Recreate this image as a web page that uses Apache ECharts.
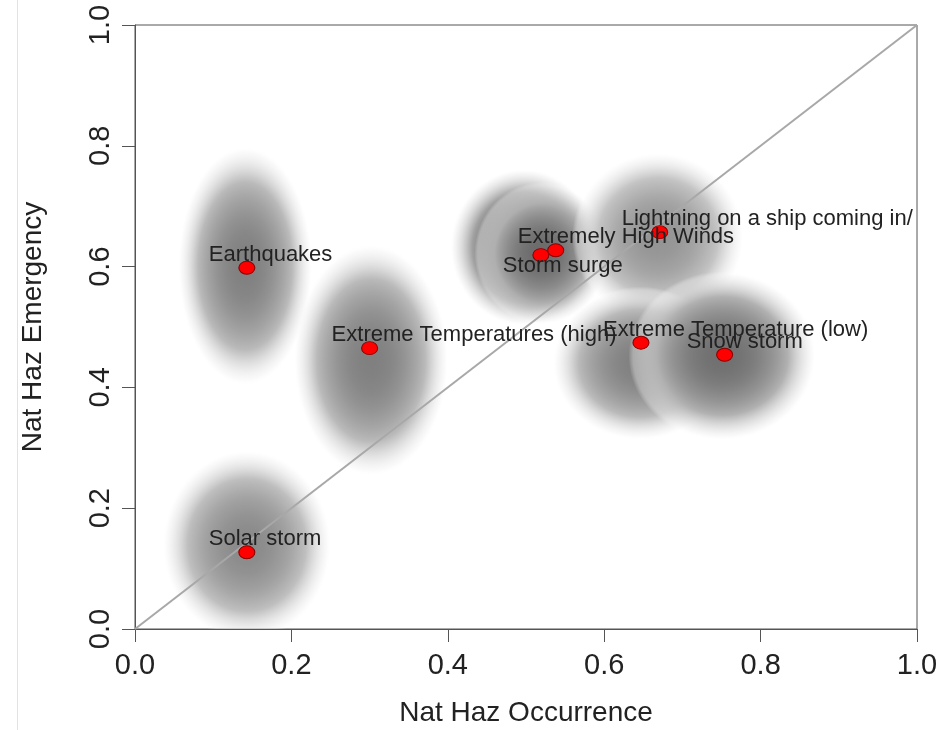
<!DOCTYPE html>
<html>
<head>
<meta charset="utf-8">
<script src="https://cdn.jsdelivr.net/npm/echarts@6/dist/echarts.min.js"></script>
<style>
  html, body { margin: 0; padding: 0; background: #fff; }
  #chart { width: 951px; height: 730px; }
</style>
</head>
<body>
<div id="chart"></div>
<script>
// Hazards plotted by occurrence vs emergency, each with a grey uncertainty cloud.
const hazards = [
  'Earthquakes', 'Extreme Temperatures (high)', 'Solar storm', 'Storm surge',
  'Extremely High Winds', 'Lightning on a ship coming in/out of port',
  'Extreme Temperature (low)', 'Snow storm',
];
const occurrence = [0.143, 0.300, 0.143, 0.519, 0.538, 0.671, 0.647, 0.754];
const emergency  = [0.598, 0.465, 0.127, 0.619, 0.627, 0.657, 0.474, 0.454];

// cloud centre and half-spread (data units) per hazard, plus darkness 0..1
const cloudX   = [0.141, 0.302, 0.143, 0.497, 0.520, 0.669, 0.646, 0.751];
const cloudY   = [0.601, 0.445, 0.139, 0.632, 0.622, 0.649, 0.440, 0.452];
const spreadX  = [0.086, 0.099, 0.108, 0.094, 0.086, 0.110, 0.112, 0.120];
const spreadY  = [0.198, 0.192, 0.157, 0.130, 0.118, 0.140, 0.127, 0.140];
const darkness = [0.50, 0.50, 0.46, 0.68, 0.58, 0.42, 0.50, 0.56];

const xTicks = [0, 0.2, 0.4, 0.6, 0.8, 1.0];

const INK = '#222';
const FRAME = '#555';
const FONT = '"Liberation Sans", Arial, sans-serif';
const BELOW = new Set(['Storm surge']);

const chart = echarts.init(document.getElementById('chart'));

// radial fade from grey centre to a faint, half-see-through white rim
function cloudFill(dark) {
  const g = Math.round(255 * (1 - dark));
  const stops = [];
  for (let i = 0; i <= 20; i++) {
    const t = i / 20;
    const f = 1 - Math.pow(t, 2.2);
    const c = Math.round(255 - (255 - g) * f);
    const a = t < 0.7 ? 1 : Math.max(0, 1 - (t - 0.7) / 0.3 * 0.75 - (t === 1 ? 0.25 : 0));
    stops.push({ offset: t, color: `rgba(${c},${c},${c},${a.toFixed(3)})` });
  }
  return { type: 'radial', x: 0.5, y: 0.5, r: 0.5, colorStops: stops };
}

const axisCommon = {
  min: 0, max: 1, interval: 0.2,
  axisLine: { show: true, lineStyle: { color: FRAME, width: 1 } },
  axisTick: { show: true, length: 13, lineStyle: { color: FRAME } },
  splitLine: { show: false },
  nameLocation: 'middle',
  nameTextStyle: { color: INK, fontSize: 28, fontFamily: FONT },
};

chart.setOption({
  backgroundColor: '#fff',
  animation: false,
  grid: {
    left: 135, right: 34, top: 25, bottom: 101,
    outerBoundsMode: 'none', containLabel: false,
    show: true, borderColor: FRAME, borderWidth: 1,
  },
  xAxis: {
    type: 'value', ...axisCommon,
    name: 'Nat Haz Occurrence', nameGap: 70,
    axisLabel: {
      color: INK, fontSize: 29, fontFamily: FONT, margin: 22,
      formatter: v => v.toFixed(1),
    },
  },
  yAxis: {
    type: 'value', ...axisCommon,
    name: 'Nat Haz Emergency', nameGap: 88,
    axisLabel: {
      color: INK, fontSize: 29, fontFamily: FONT, margin: 20, rotate: 90,
      formatter: v => v.toFixed(1),
    },
  },
  graphic: [{
    type: 'line', silent: true,
    shape: { x1: 17.5, y1: 0, x2: 17.5, y2: 730 },
    style: { stroke: '#e2e2e2', lineWidth: 1 },
  }],
  series: [
    {
      name: 'clouds',
      type: 'custom',
      clip: true,
      silent: true,
      z: 1,
      data: hazards.map((h, i) => [cloudX[i], cloudY[i], spreadX[i], spreadY[i], darkness[i]]),
      renderItem(params, api) {
        const c = api.coord([api.value(0), api.value(1)]);
        const s = api.size([api.value(2), api.value(3)]);
        return {
          type: 'circle',
          x: c[0], y: c[1],
          scaleX: s[0] / s[1],
          shape: { cx: 0, cy: 0, r: s[1] },
          style: { fill: cloudFill(api.value(4)) },
        };
      },
    },
    {
      name: 'diagonal',
      type: 'line',
      z: 2,
      silent: true,
      symbol: 'none',
      data: [[xTicks[0], xTicks[0]], [xTicks[xTicks.length - 1], xTicks[xTicks.length - 1]]],
      lineStyle: { color: '#a8a8a8', width: 2 },
    },
    {
      name: 'hazards',
      type: 'scatter',
      z: 3,
      symbol: 'circle',
      symbolSize: [16, 13],
      itemStyle: { color: '#ff0000', borderColor: '#8a0000', borderWidth: 1, opacity: 1 },
      data: hazards.map((h, i) => ({
        name: h,
        value: [occurrence[i], emergency[i]],
        label: {
          show: true,
          position: 'inside',
          align: 'left',
          verticalAlign: 'middle',
          offset: [-38, BELOW.has(h) ? 11 : -13],
          formatter: '{b}',
          color: INK,
          fontSize: 22,
          fontFamily: FONT,
          textBorderWidth: 0,
          width: 296,
          overflow: 'truncate',
          ellipsis: '',
        },
      })),
    },
  ],
});
</script>
</body>
</html>
